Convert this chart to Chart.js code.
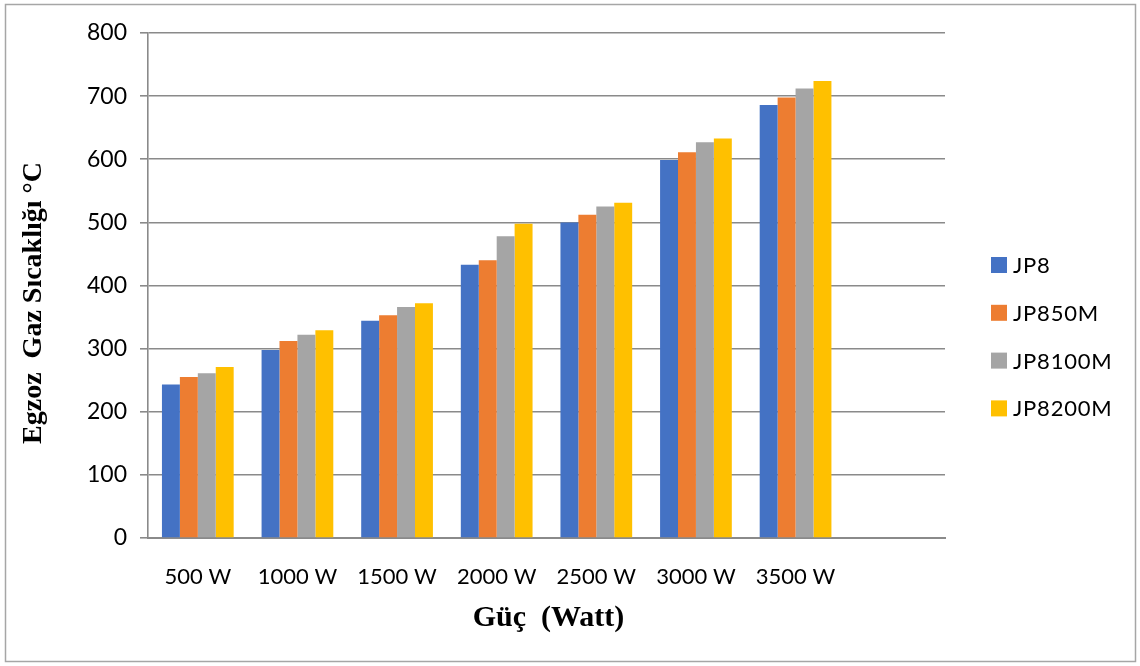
<!DOCTYPE html>
<html><head><meta charset="utf-8">
<script src="https://cdn.jsdelivr.net/npm/chart.js@4.4.0/dist/chart.umd.min.js"></script>
<style>html,body{margin:0;padding:0;background:#fff;}#wrap{width:1140px;height:666px;position:relative;}</style>
</head><body><div id="wrap"><canvas id="c" width="1140" height="666"></canvas></div>
<script>
const categories = ['500 W','1000 W','1500 W','2000 W','2500 W','3000 W','3500 W',''];
const seriesNames = ['JP8','JP850M','JP8100M','JP8200M'];
const jp8     = [243, 298, 344, 433, 500, 599, 686];
const jp850m  = [255, 312, 353, 440, 512, 611, 698];
const jp8100m = [261, 322, 366, 478, 525, 627, 712];
const jp8200m = [271, 329, 372, 498, 531, 633, 724];
const yTicks = [0, 100, 200, 300, 400, 500, 600, 700, 800];
const seriesColors = ['#4472C4', '#ED7D31', '#A5A5A5', '#FFC000'];
const yTitle = 'Egzoz  Gaz Sıcaklığı °C';
const xTitle = 'Güç  (Watt)';

const seriesValues = [jp8, jp850m, jp8100m, jp8200m];
const GRID = '#8a8a8a';

const decor = {
  id: 'decor',
  afterDraw(chart) {
    const ctx = chart.ctx;
    const area = chart.chartArea;
    ctx.save();
    ctx.strokeStyle = '#a6a6a6';
    ctx.lineWidth = 1.5;
    ctx.strokeRect(5.5, 4.5, 1130, 657);
    ctx.fillStyle = '#000';
    ctx.font = 'bold 28px "Liberation Serif"';
    ctx.textAlign = 'center';
    ctx.textBaseline = 'middle';
    ctx.translate(34, 303);
    ctx.rotate(-Math.PI / 2);
    ctx.fillText(yTitle, 0, 0);
    ctx.restore();
    ctx.save();
    ctx.fillStyle = '#000';
    ctx.font = 'bold 30px "Liberation Serif"';
    ctx.textAlign = 'center';
    ctx.textBaseline = 'middle';
    ctx.fillText(xTitle, (area.left + area.right) / 2 + 2, 618);
    ctx.font = '22px Lato';
    ctx.letterSpacing = '0.8px';
    ctx.textAlign = 'left';
    chart.data.datasets.forEach((ds, i) => {
      const cy = 265 + i * 47.8;
      ctx.fillStyle = ds.backgroundColor;
      ctx.fillRect(991, cy - 8, 16, 16);
      ctx.fillStyle = '#000';
      ctx.fillText(ds.label, 1013, cy + 1);
    });
    ctx.restore();
  }
};

new Chart(document.getElementById('c'), {
  type: 'bar',
  data: {
    labels: categories,
    datasets: seriesNames.map((n, i) => ({
      label: n,
      data: seriesValues[i],
      backgroundColor: seriesColors[i],
      borderWidth: 0,
      categoryPercentage: 0.72,
      barPercentage: 1.0
    }))
  },
  options: {
    responsive: false,
    animation: false,
    devicePixelRatio: 1,
    layout: { padding: { left: 8, right: 195, top: 33, bottom: 8 } },
    plugins: { legend: { display: false }, tooltip: { enabled: false } },
    scales: {
      x: {
        grid: { display: false, drawTicks: false },
        border: { display: true, color: GRID, width: 2 },
        ticks: { color: '#000', font: { family: 'Lato', size: 22 }, padding: 26, maxRotation: 0, autoSkip: false },
        afterFit(s) { s.height = 666 - 538 - 8; }
      },
      y: {
        min: 0, max: 800,
        afterBuildTicks(s) { s.ticks = yTicks.map(v => ({ value: v })); },
        grid: { color: GRID, lineWidth: 1.6, tickLength: 8, drawTicks: true },
        border: { display: true, color: GRID, width: 1.6 },
        ticks: { color: '#000', font: { family: 'Lato', size: 23 }, padding: 13 },
        afterFit(s) { s.width = 140; }
      }
    }
  },
  plugins: [decor]
});
</script></body></html>
